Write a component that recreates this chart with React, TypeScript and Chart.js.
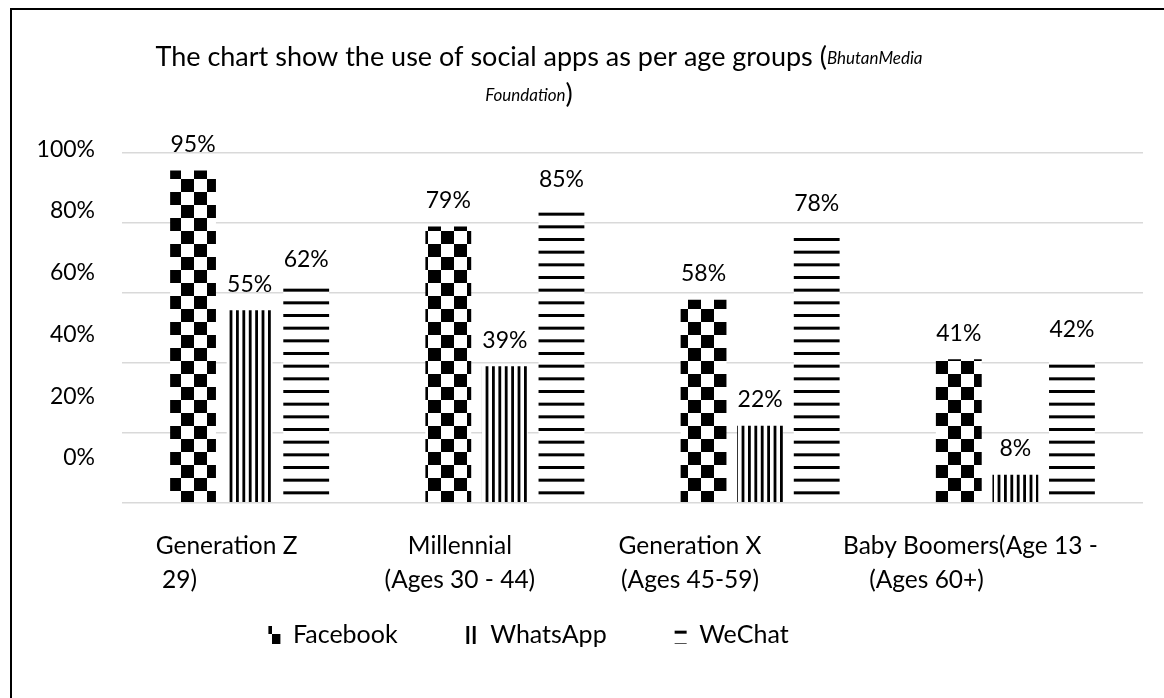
import React, { useEffect, useRef } from "react";
import { Chart, registerables } from "chart.js";

Chart.register(...registerables);

// ---- data ----
const categories: string[][] = [
  ["       Generation Z", "29)        "],
  ["Millennial", "(Ages 30 - 44)"],
  ["Generation X        ", "(Ages 45-59)        "],
  ["Baby Boomers(Age 13 -", "(Ages 60+)              "],
];
const seriesNames = ["Facebook", "WhatsApp", "WeChat"];
const facebook = [95, 79, 58, 41];
const whatsapp = [55, 39, 22, 8];
const wechat = [62, 85, 78, 42];
const yTickValues = [0, 20, 40, 60, 80, 100];
const titleMain = "The chart show the use of social apps as per age groups (";
const titleSourceA = "BhutanMedia";
const titleSourceB = "Foundation";
const titleClose = ")";

const FONT = "Lato, 'Noto Sans', sans-serif";

function checker(ctx: CanvasRenderingContext2D) {
  const c = document.createElement("canvas");
  c.width = 26;
  c.height = 26;
  const g = c.getContext("2d")!;
  g.fillStyle = "#fff";
  g.fillRect(0, 0, 26, 26);
  g.fillStyle = "#000";
  g.fillRect(0, 0, 13, 13);
  g.fillRect(13, 13, 13, 13);
  return ctx.createPattern(c, "repeat")!;
}
function vStripes(ctx: CanvasRenderingContext2D) {
  const c = document.createElement("canvas");
  c.width = 32;
  c.height = 4;
  const g = c.getContext("2d")!;
  g.fillStyle = "#fff";
  g.fillRect(0, 0, 32, 4);
  g.fillStyle = "#000";
  for (let k = 0; k < 5; k++) g.fillRect(k * 6.4, 0, 2.8, 4);
  return ctx.createPattern(c, "repeat")!;
}
function hStripes(ctx: CanvasRenderingContext2D) {
  const c = document.createElement("canvas");
  c.width = 4;
  c.height = 38;
  const g = c.getContext("2d")!;
  g.fillStyle = "#fff";
  g.fillRect(0, 0, 4, 38);
  g.fillStyle = "#000";
  for (let k = 0; k < 3; k++) g.fillRect(0, k * (38 / 3), 4, 3);
  return ctx.createPattern(c, "repeat")!;
}

const valueLabels = {
  id: "valueLabels",
  afterDatasetsDraw(chart: any) {
    const ctx = chart.ctx;
    ctx.save();
    ctx.font = `23px ${FONT}`;
    ctx.fillStyle = "#000";
    ctx.textAlign = "center";
    ctx.textBaseline = "middle";
    chart.data.datasets.forEach((ds: any, i: number) => {
      const meta = chart.getDatasetMeta(i);
      meta.data.forEach((el: any, j: number) => {
        ctx.fillText(ds.data[j] + "%", el.x, el.y - 26);
      });
    });
    ctx.restore();
  },
};

const richTitle = {
  id: "richTitle",
  afterDraw(chart: any) {
    const ctx = chart.ctx;
    ctx.save();
    ctx.fillStyle = "#000";
    ctx.textBaseline = "middle";
    ctx.textAlign = "left";
    const fMain = `27px ${FONT}`;
    const fIt = `italic 17px ${FONT}`;
    // line 1
    ctx.font = fMain;
    const w1 = ctx.measureText(titleMain).width;
    ctx.font = fIt;
    const w2 = ctx.measureText(titleSourceA).width;
    let x = chart.width / 2 - 49 - (w1 + w2) / 2;
    ctx.font = fMain;
    ctx.fillText(titleMain, x, 47);
    ctx.font = fIt;
    ctx.fillText(titleSourceA, x + w1, 49);
    // line 2
    ctx.font = fIt;
    const w3 = ctx.measureText(titleSourceB).width;
    ctx.font = fMain;
    const w4 = ctx.measureText(titleClose).width;
    x = chart.width / 2 - 59 - (w3 + w4) / 2;
    ctx.font = fIt;
    ctx.fillText(titleSourceB, x, 86);
    ctx.font = fMain;
    ctx.fillText(titleClose, x + w3, 84);
    ctx.restore();
  },
};

const shiftLegend = {
  id: "shiftLegend",
  afterLayout(chart: any) {
    const lg = chart.legend;
    if (lg) {
      lg.left -= 49;
      lg.right -= 49;
      lg.top -= 40.5;
      lg.bottom -= 40.5;
    }
  },
};

export default function App() {
  const ref = useRef<HTMLCanvasElement>(null);
  useEffect(() => {
    const canvas = ref.current!;
    const ctx = canvas.getContext("2d")!;
    const patterns = [checker(ctx), vStripes(ctx), hStripes(ctx)];
    const seriesData = [facebook, whatsapp, wechat];
    const chart = new Chart(canvas, {
      type: "bar",
      data: {
        labels: categories,
        datasets: seriesNames.map((name, i) => ({
          label: name,
          data: seriesData[i],
          backgroundColor: patterns[i],
          borderWidth: 0,
          categoryPercentage: 0.665,
          barPercentage: 0.81,
          yAxisID: "y",
        })),
      },
      options: {
        responsive: false,
        animation: false,
        layout: { padding: { top: 143, right: 21, left: 0, bottom: 0 } },
        plugins: {
          legend: {
            position: "bottom",
            labels: {
              font: { family: FONT, size: 25 },
              color: "#000",
              boxWidth: 12,
              boxHeight: 18,
              padding: 68,
            },
          },
          title: { display: false },
          tooltip: { enabled: false },
        },
        scales: {
          x: {
            grid: { display: false, drawTicks: false },
            border: { display: false },
            ticks: {
              font: { family: FONT, size: 24.5, lineHeight: 1.388 },
              color: "#000",
              padding: 26.3,
              autoSkip: false,
              maxRotation: 0,
              minRotation: 0,
              labelOffset: -45,
            },
            afterFit: (s: any) => {
              s.height = 92.3;
              s.paddingLeft = 0;
              s.paddingRight = 0;
            },
          },
          y: {
            min: 0,
            max: 100,
            weight: 0,
            ticks: { display: false, stepSize: 20 },
            grid: { color: "#d9d9d9", lineWidth: 1.5, drawTicks: false },
            border: { display: false },
            afterFit: (s: any) => {
              s.width = 0;
            },
          },
          yl: {
            type: "linear",
            position: "left",
            min: -14.46,
            max: 98.8,
            weight: 1,
            grid: { display: false, drawTicks: false },
            border: { display: false },
            ticks: {
              autoSkip: false,
              padding: 27,
              font: { family: FONT, size: 23 },
              color: "#000",
              callback: (v: any) => v + "%",
            },
            afterBuildTicks: (s: any) => {
              s.ticks = yTickValues.map((v) => ({ value: v }));
            },
            afterFit: (s: any) => {
              s.width = 110;
            },
          },
        },
      } as any,
      plugins: [valueLabels, richTitle, shiftLegend],
    });
    return () => chart.destroy();
  }, []);
  return (
    <div
      style={{
        position: "absolute",
        left: 10,
        top: 8,
        width: 1154,
        height: 690,
        borderLeft: "2px solid #000",
        borderTop: "2px solid #000",
        boxSizing: "border-box",
        background: "#fff",
        overflow: "hidden",
      }}
    >
      <canvas ref={ref} width={1152} height={688} style={{ display: "block" }} />
    </div>
  );
}
